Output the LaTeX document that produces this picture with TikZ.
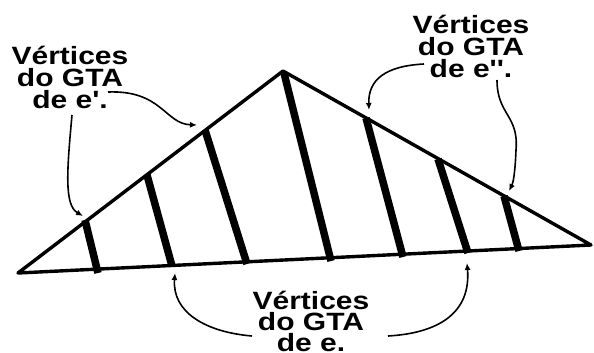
\documentclass[tikz,border=0pt]{standalone}
\usepackage{fontspec}
\newfontfamily\lblfont{Liberation Sans}[FakeStretch=1.2]
\usetikzlibrary{arrows.meta}
\begin{document}
\begin{tikzpicture}[x=1pt,y=-1pt,
  edge/.style={line width=3.4pt, line join=round, line cap=round},
  rung/.style={line width=7.5pt},
  lbl/.style={font=\lblfont\bfseries\fontsize{25}{22}\selectfont, align=center, inner sep=0pt},
  pointer/.style={line width=1.6pt, -{Latex[length=7pt,width=6pt]}}]
\useasboundingbox (0,0) rectangle (594,353);
% triangle vertices
\coordinate (L) at (18,273);
\coordinate (A) at (283,71);
\coordinate (R) at (591,245);
\draw[edge] (L) -- (A) -- (R) -- cycle;
% rungs: tops and bottoms
\coordinate (t1) at (85,220);  \coordinate (b1) at (98,273);
\coordinate (t2) at (147,175); \coordinate (b2) at (172,266);
\coordinate (t3) at (205,130); \coordinate (b3) at (247,264);
\coordinate (t4) at (284,73);  \coordinate (b4) at (331,261);
\coordinate (t5) at (366,118); \coordinate (b5) at (403,257);
\coordinate (t6) at (438,159); \coordinate (b6) at (468,253);
\coordinate (t7) at (504,196); \coordinate (b7) at (519,251);
\foreach \i in {1,...,7} {\draw[rung] (t\i) -- (b\i);}
% labels
\node[lbl] (la) at (70,77) {Vértices\\do GTA\\de e'.};
\node[lbl] (lb) at (471,46) {Vértices\\do GTA\\de e''.};
\node[lbl, font=\lblfont\bfseries\fontsize{25}{21}\selectfont] (lc) at (311,321) {Vértices\\do GTA\\de e.};
% pointer ends
\coordinate (sa1) at (72,115);  \coordinate (pa1) at (83,216);
\coordinate (sa2) at (108,92);  \coordinate (pa2) at (197,125);
\coordinate (sb1) at (424,64);  \coordinate (pb1) at (369,110);
\coordinate (sb2) at (497,80);  \coordinate (pb2) at (509,191);
\coordinate (sc1) at (252,336); \coordinate (pc1) at (175,273);
\coordinate (sc2) at (388,336); \coordinate (pc2) at (467,263);
\draw[pointer] (sa1) .. controls (67,170) and (64,205) .. (pa1);
\draw[pointer] (sa2) .. controls (162,90) and (165,124) .. (pa2);
\draw[pointer] (sb1) .. controls (385,66) and (368,80) .. (pb1);
\draw[pointer] (sb2) .. controls (497,115) and (519,115) .. (516,150) .. controls (515,175) and (513,183) .. (pb2);
\draw[pointer] (sc1) .. controls (205,332) and (172,312) .. (pc1);
\draw[pointer] (sc2) .. controls (440,333) and (471,312) .. (pc2);
\end{tikzpicture}
\end{document}
